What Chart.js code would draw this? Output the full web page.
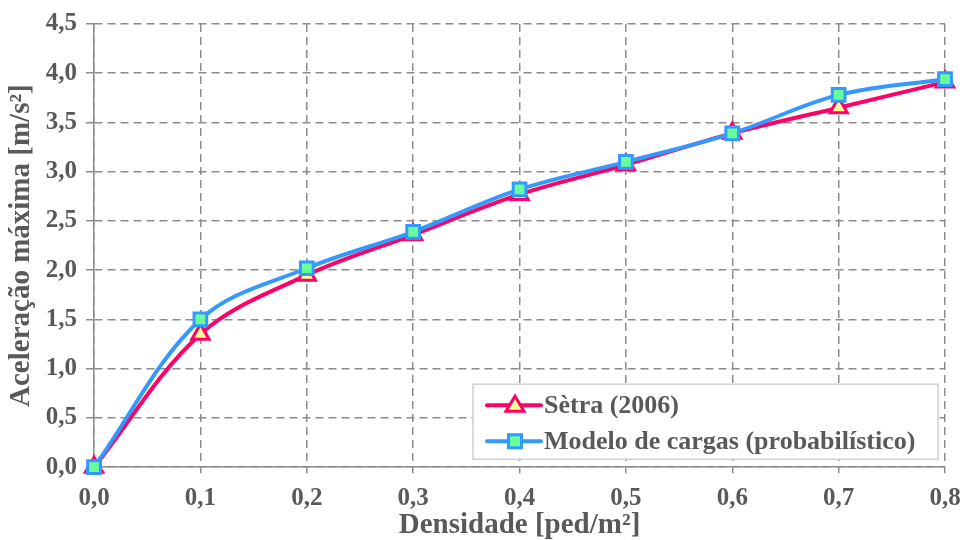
<!DOCTYPE html>
<html>
<head>
<meta charset="utf-8">
<script src="https://cdn.jsdelivr.net/npm/chart.js@4.4.1/dist/chart.umd.min.js"></script>
<style>
  html, body { margin: 0; padding: 0; background: #ffffff; }
  #wrap { width: 965px; height: 540px; position: relative; }
</style>
</head>
<body>
<div id="wrap"><canvas id="js--chart"></canvas></div>
<script>
// dados
const densidade = [0.0, 0.1, 0.2, 0.3, 0.4, 0.5, 0.6, 0.7, 0.8];
const setra = [0.0, 1.35, 1.95, 2.36, 2.77, 3.07, 3.39, 3.65, 3.91];
const modelo = [0.0, 1.50, 2.02, 2.39, 2.82, 3.10, 3.39, 3.78, 3.94];

const fonte = "'Liberation Serif', 'Times New Roman', serif";
const cinza = "#595959";
const gradeCor = "#8c8c8c";

function pontos(ys) {
    return densidade.map(function (x, i) { return { x: x, y: ys[i] }; });
}

// legenda desenhada dentro da área do gráfico (canto inferior direito)
const legendaDentro = {
    id: "legendaDentro",
    afterDraw: function (chart) {
        const ctx = chart.ctx;
        const area = chart.chartArea;
        const w = 465, h = 75;
        const x0 = area.right - 7 - w;
        const y0 = area.bottom - 8 - h;
        ctx.save();
        ctx.fillStyle = "#ffffff";
        ctx.fillRect(x0, y0, w, h);
        ctx.strokeStyle = "#d0d0d0";
        ctx.lineWidth = 1.5;
        ctx.strokeRect(x0, y0, w, h);
        chart.data.datasets.forEach(function (ds, i) {
            const cy = y0 + 21 + i * 36;
            const lx = x0 + 14;
            ctx.strokeStyle = ds.borderColor;
            ctx.lineWidth = 4;
            ctx.lineCap = "round";
            ctx.beginPath();
            ctx.moveTo(lx, cy);
            ctx.lineTo(lx + 54, cy);
            ctx.stroke();
            const cx = lx + 28;
            ctx.fillStyle = ds.pointBackgroundColor;
            ctx.strokeStyle = ds.pointBorderColor;
            ctx.lineWidth = 3;
            ctx.beginPath();
            if (ds.pointStyle === "triangle") {
                ctx.moveTo(cx, cy - 9);
                ctx.lineTo(cx + 9, cy + 6);
                ctx.lineTo(cx - 9, cy + 6);
                ctx.closePath();
            } else {
                ctx.rect(cx - 6.5, cy - 6.5, 13, 13);
            }
            ctx.fill();
            ctx.stroke();
            ctx.fillStyle = cinza;
            ctx.font = "bold 26px " + fonte;
            ctx.textBaseline = "middle";
            ctx.textAlign = "left";
            ctx.fillText(ds.label, lx + 57, cy + 1);
        });
        ctx.restore();
    }
};

const data = {
    datasets: [
        {
            label: "Sètra (2006)",
            data: pontos(setra),
            borderColor: "#ff0066",
            backgroundColor: "#ff0066",
            borderWidth: 4,
            pointStyle: "triangle",
            pointRadius: 10,
            pointBorderWidth: 3,
            pointBorderColor: "#ff0066",
            pointBackgroundColor: "#ffff99",
            tension: 0.35,
            clip: false,
            order: 2
        },
        {
            label: "Modelo de cargas (probabilístico)",
            data: pontos(modelo),
            borderColor: "#3399ff",
            backgroundColor: "#3399ff",
            borderWidth: 4,
            pointStyle: "rect",
            pointRadius: 9,
            pointBorderWidth: 3,
            pointBorderColor: "#3399ff",
            pointBackgroundColor: "#66ff99",
            tension: 0.35,
            clip: false,
            order: 1
        }
    ]
};

const config = {
    type: "line",
    data: data,
    plugins: [legendaDentro],
    options: {
        responsive: true,
        maintainAspectRatio: false,
        animation: false,
        layout: { padding: { left: 4, right: 20, top: 12, bottom: 0 } },
        plugins: {
            legend: { display: false },
            tooltip: { enabled: false }
        },
        scales: {
            x: {
                type: "linear",
                min: 0,
                max: 0.8,
                afterFit: function (scale) { scale.paddingRight = 0; },
                ticks: {
                    stepSize: 0.1,
                    color: cinza,
                    font: { family: fonte, size: 25, weight: "bold" },
                    padding: 10,
                    callback: function (v) { return v.toFixed(1).replace(".", ","); }
                },
                grid: { color: gradeCor, lineWidth: 1.5, tickLength: 6, borderDash: [8, 5], tickBorderDash: [8, 5] },
                border: { dash: [8, 5], color: gradeCor, width: 1.5 },
                title: {
                    display: true,
                    text: "Densidade [ped/m²]",
                    color: cinza,
                    font: { family: fonte, size: 29, weight: "bold" },
                    padding: { top: -15, bottom: -3 }
                }
            },
            y: {
                min: 0,
                max: 4.5,
                ticks: {
                    stepSize: 0.5,
                    color: cinza,
                    font: { family: fonte, size: 25, weight: "bold" },
                    padding: 9,
                    callback: function (v) { return v.toFixed(1).replace(".", ","); }
                },
                grid: { color: gradeCor, lineWidth: 1.5, tickLength: 8, borderDash: [8, 5] },
                border: { dash: [8, 5], color: gradeCor, width: 1.5 },
                title: {
                    display: true,
                    text: "Aceleração máxima [m/s²]",
                    color: cinza,
                    font: { family: fonte, size: 29, weight: "bold" },
                    padding: { top: 0, bottom: -2 }
                }
            }
        }
    }
};

Chart.defaults.font.family = fonte;

const chart1 = new Chart(document.getElementById("js--chart"), config);
</script>
</body>
</html>
